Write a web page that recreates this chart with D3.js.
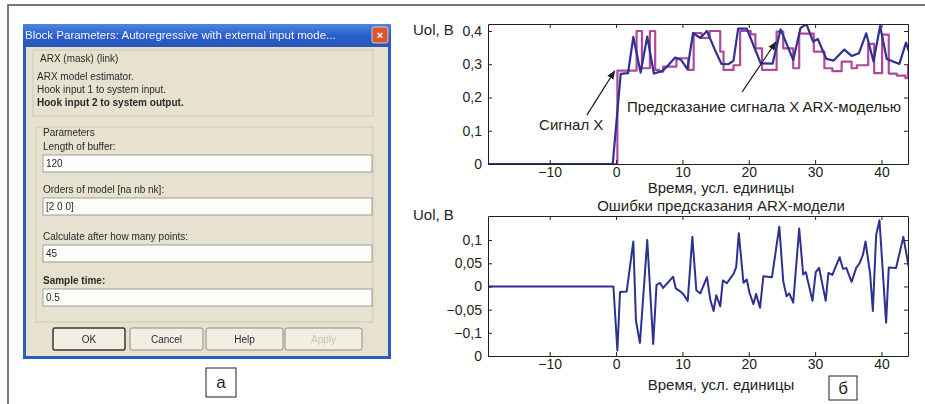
<!DOCTYPE html>
<html>
<head>
<meta charset="utf-8">
<script src="https://cdn.jsdelivr.net/npm/d3@7"></script>
<style>
  body { margin: 0; background: #fff; }
  svg { display: block; }
  .axis path, .axis line { stroke: #231f20; stroke-width: 1; }
  .axis text { font-family: "Liberation Sans", Arial, sans-serif; font-size: 14px; fill: #231f20; }
  .lbl { font-family: "Liberation Sans", Arial, sans-serif; font-size: 15px; fill: #231f20; }
  .dlg { font-family: "Liberation Sans", Arial, sans-serif; font-size: 10px; fill: #2a2a2a; }
</style>
</head>
<body>
<div id="chart"></div>
<script>
// Figure: dialog screenshot (a) + ARX prediction plots (b)

// x axis (time, conventional units)
const xDomain = [-19.3, 44];
const xTicks = [-10, 0, 10, 20, 30, 40];

// top plot: signal X and ARX prediction, V
const topYDomain = [0, 0.421];
const topYTicks = [0, 0.1, 0.2, 0.3, 0.4];
const topYTickLabels = ["0", "0,1", "0,2", "0,3", "0,4"];

// bottom plot: prediction error, V
const botYDomain = [-0.15, 0.152];
const botYTicks = [-0.15, -0.1, -0.05, 0, 0.05, 0.1];
const botYTickLabels = ["0", "\u22120,1", "\u22120,05", "0", "0,05", "0,1"];

// signal X (drawn as steps) [t, value]
const signalX = [
  [-19.3, 0], [0.2, 0.281], [3.1, 0.40], [3.9, 0.288], [5.1, 0.40], [5.9, 0.283],
  [6.5, 0.278], [7.1, 0.293], [9.1, 0.318], [10.9, 0.283], [11.7, 0.394], [12.9, 0.379],
  [14.1, 0.40], [15.7, 0.338], [16.2, 0.283], [17.7, 0.297], [18.7, 0.40], [20.3, 0.39],
  [21.0, 0.348], [22.0, 0.283], [24.2, 0.398], [25.2, 0.348], [26.7, 0.288], [27.6, 0.392],
  [29.8, 0.338], [31.4, 0.288], [32.6, 0.279], [34.0, 0.308], [35.5, 0.288], [36.3, 0.297],
  [38.0, 0.361], [38.9, 0.273], [40.1, 0.389], [41.1, 0.272], [42.3, 0.266], [43.6, 0.258],
  [44.0, 0.297]
];

// ARX-model prediction of signal X [t, value]
const predictionX = [
  [-19.3, 0], [-0.5, 0], [0.7, 0.271], [1.8, 0.273], [2.6, 0.382], [3.7, 0.275],
  [4.7, 0.383], [5.7, 0.272], [7.0, 0.28], [7.9, 0.298], [8.9, 0.32], [9.8, 0.313],
  [10.75, 0.285], [11.6, 0.394], [12.7, 0.379], [13.7, 0.40], [14.9, 0.343], [15.9, 0.301],
  [16.9, 0.30], [17.7, 0.31], [18.4, 0.407], [19.7, 0.407], [21.8, 0.303], [23.6, 0.302],
  [24.8, 0.405], [26.7, 0.313], [27.8, 0.409], [28.7, 0.42], [29.7, 0.368], [30.4, 0.376],
  [31.7, 0.316], [32.8, 0.311], [34.4, 0.344], [35.5, 0.325], [36.6, 0.333], [37.7, 0.393],
  [38.8, 0.308], [39.8, 0.415], [40.8, 0.316], [42.7, 0.301], [43.7, 0.365], [44.1, 0.34]
];

// prediction error [t, value]
const predictionError = [
  [-19.3, 0], [-0.4, 0], [0.2, -0.138], [0.6, -0.012], [1.6, -0.011], [2.6, 0.097],
  [3.0, -0.074], [3.6, -0.122], [4.7, 0.10], [5.6, -0.124], [6.1, 0.003], [6.6, 0.008],
  [7.1, -0.003], [8.6, 0.021], [9.0, -0.004], [9.6, -0.01], [10.1, -0.016], [10.8, -0.031],
  [11.5, 0.107], [12.1, -0.008], [12.7, -0.015], [13.7, 0.02], [14.2, -0.028], [14.7, -0.053],
  [15.1, -0.019], [15.7, -0.043], [16.1, 0.013], [16.7, 0.007], [17.7, 0.027], [18.1, 0.041],
  [18.5, 0.115], [19.2, 0.008], [19.7, 0.015], [20.1, -0.013], [20.7, -0.038], [21.1, -0.016],
  [21.7, -0.046], [22.2, 0.022], [23.5, 0.020], [24.6, 0.129], [25.2, 0.011], [25.7, -0.021],
  [26.1, -0.015], [26.7, -0.035], [27.6, 0.125], [28.2, 0.026], [28.6, 0.031], [29.6, -0.031],
  [30.1, 0.031], [30.6, 0.04], [31.6, -0.031], [32.0, 0.029], [32.6, 0.025], [33.1, 0.043],
  [33.7, 0.063], [34.2, 0.038], [34.7, 0.04], [35.5, 0.01], [36.2, 0.040], [36.7, 0.05],
  [37.2, 0.068], [37.6, 0.097], [38.3, 0.026], [38.7, -0.053], [39.2, 0.111], [39.7, 0.143],
  [40.7, -0.078], [41.1, 0.041], [42.2, 0.04], [43.3, 0.107], [44.1, 0.043]
];

// annotations in data coordinates: label position, arrow tail, arrow tip
const notes = [
  {text: "Сигнал X", tx: -11.6, tv: 0.102, fromT: -4.4, fromV: 0.147, toT: -0.2, toV: 0.28},
  {text: "Предсказание сигнала X ARX-моделью", tx: 1.66, tv: 0.157, fromT: 19.0, fromV: 0.217, toT: 24.1, toV: 0.367}
];

// dialog contents (screenshot in part "а")
const dlgTitle = "Block Parameters: Autoregressive with external input mode...";
const dlgInfo = ["ARX model estimator.", "Hook input 1 to system input.", "Hook input 2 to system output."];
const dlgFields = [
  {label: "Length of buffer:", value: "120"},
  {label: "Orders of model [na nb nk]:", value: "[2 0 0]"},
  {label: "Calculate after how many points:", value: "45"},
  {label: "Sample time:", value: "0.5"}
];
const dlgButtons = ["OK", "Cancel", "Help", "Apply"];

const W = 925, H = 404;
const blue = "#2e3192", purple = "#b0489b";

const svg = d3.select("#chart").append("svg")
    .attr("width", W)
    .attr("height", H);

const defs = svg.append("defs");
defs.append("marker")
    .attr("id", "arrow")
    .attr("viewBox", "0 0 10 10")
    .attr("refX", 9).attr("refY", 5)
    .attr("markerWidth", 9).attr("markerHeight", 9)
    .attr("markerUnits", "userSpaceOnUse")
    .attr("orient", "auto")
    .append("path")
    .attr("d", "M0,1 L10,5 L0,9 Z")
    .attr("fill", "#231f20");
defs.append("filter").attr("id", "soft")
    .append("feGaussianBlur").attr("stdDeviation", 0.45);
let tg = defs.append("linearGradient").attr("id", "titlebar")
    .attr("x1", 0).attr("x2", 0).attr("y1", 0).attr("y2", 1);
tg.append("stop").attr("offset", 0).attr("stop-color", "#4f86e0");
tg.append("stop").attr("offset", 0.5).attr("stop-color", "#2a5fcc");
tg.append("stop").attr("offset", 1).attr("stop-color", "#2a56b8");

// figure frame (top and left edges only)
svg.append("path")
    .attr("d", `M8,${H} L8,5 L${W},5`)
    .attr("fill", "none")
    .attr("stroke", "#4d4d4d")
    .attr("stroke-width", 1.5);

// ---------- part a: dialog ----------
const dlg = svg.append("g").attr("class", "dialog");
const dx0 = 23, dx1 = 391, dy0 = 24, dy1 = 359;

dlg.append("rect").attr("x", dx0).attr("y", dy0).attr("width", dx1 - dx0).attr("height", dy1 - dy0)
    .attr("fill", "#2c5cc0");
dlg.append("rect").attr("x", dx0).attr("y", dy0).attr("width", dx1 - dx0).attr("height", 23)
    .attr("fill", "url(#titlebar)");
dlg.append("rect").attr("x", dx0 + 3).attr("y", dy0 + 23).attr("width", dx1 - dx0 - 6).attr("height", dy1 - dy0 - 26)
    .attr("fill", "#e6e2cf");
dlg.append("text").attr("x", dx0 + 2).attr("y", dy0 + 15)
    .attr("class", "dlg").style("font-size", "11.5px").style("fill", "#f4f6ff")
    .attr("filter", "url(#soft)")
    .text(dlgTitle);
dlg.append("rect").attr("x", 372).attr("y", 27).attr("width", 16).attr("height", 16).attr("rx", 2)
    .attr("fill", "#d9572f").attr("stroke", "#f0e0d8").attr("stroke-width", 0.8);
dlg.append("text").attr("x", 380).attr("y", 39).attr("text-anchor", "middle")
    .attr("class", "dlg").style("fill", "#fff").style("font-weight", "bold").style("font-size", "11px")
    .text("×");

// description box
dlg.append("rect").attr("x", 33).attr("y", 50).attr("width", 340).attr("height", 66)
    .attr("fill", "none").attr("stroke", "#cfc9b2");
dlg.append("text").attr("x", 40).attr("y", 62).attr("class", "dlg")
    .attr("filter", "url(#soft)").text("ARX (mask) (link)");
dlg.selectAll("text.info").data(dlgInfo).join("text")
    .attr("class", "dlg info")
    .attr("x", 37)
    .attr("y", (d, i) => 80 + i * 13)
    .attr("filter", "url(#soft)")
    .style("font-weight", (d, i) => i === 2 ? "bold" : "normal")
    .text(d => d);

// parameters group
dlg.append("rect").attr("x", 36).attr("y", 127).attr("width", 337).attr("height", 195)
    .attr("fill", "none").attr("stroke", "#cfc9b2");
dlg.append("text").attr("x", 43).attr("y", 136).attr("class", "dlg")
    .attr("filter", "url(#soft)").text("Parameters");

const fieldY = [150, 193, 240, 284];
const fg = dlg.selectAll("g.field").data(dlgFields).join("g").attr("class", "field");
fg.append("text").attr("class", "dlg")
    .attr("x", 43).attr("y", (d, i) => fieldY[i])
    .attr("filter", "url(#soft)")
    .style("font-weight", (d, i) => i === 3 ? "bold" : "normal")
    .text(d => d.label);
fg.append("rect")
    .attr("x", 43).attr("y", (d, i) => fieldY[i] + 5)
    .attr("width", 329).attr("height", 17)
    .attr("fill", "#fdfdfb").attr("stroke", "#8a8a80").attr("stroke-width", 0.8);
fg.append("text").attr("class", "dlg")
    .attr("x", 46).attr("y", (d, i) => fieldY[i] + 17)
    .attr("filter", "url(#soft)")
    .text(d => d.value);

// buttons
const btnX = [53, 130, 206, 285], btnW = [72, 73, 77, 77];
const bg = dlg.selectAll("g.btn").data(dlgButtons).join("g").attr("class", "btn");
bg.append("rect")
    .attr("x", (d, i) => btnX[i]).attr("y", 328)
    .attr("width", (d, i) => btnW[i]).attr("height", 22).attr("rx", 2)
    .attr("fill", "#f1efe4")
    .attr("stroke", (d, i) => i === 0 ? "#3a3a30" : "#8f8c7c")
    .attr("stroke-width", (d, i) => i === 0 ? 1.5 : 1);
bg.append("text").attr("class", "dlg")
    .attr("x", (d, i) => btnX[i] + btnW[i] / 2).attr("y", 343)
    .attr("text-anchor", "middle")
    .attr("filter", "url(#soft)")
    .style("fill", (d, i) => i === 3 ? "#c9c5b4" : "#2a2a2a")
    .text(d => d);

// label "а"
svg.append("rect").attr("x", 206).attr("y", 368).attr("width", 30).attr("height", 29)
    .attr("fill", "#fff").attr("stroke", "#231f20");
svg.append("text").attr("class", "lbl").attr("x", 221).attr("y", 388)
    .attr("text-anchor", "middle").style("font-size", "17px").text("а");

// ---------- part b: plots ----------
const x = d3.scaleLinear().domain(xDomain).range([488, 908]);
const yTop = d3.scaleLinear().domain(topYDomain).range([164, 24]);
const yBot = d3.scaleLinear().domain(botYDomain).range([356, 216]);

function drawFrame(y, yTicks, yLabels) {
    let g = svg.append("g");
    let [b, t] = y.range();

    g.append("g").attr("class", "axis")
        .attr("transform", `translate(0,${b})`)
        .call(d3.axisBottom(x).tickValues(xTicks).tickSizeInner(-4).tickSizeOuter(0).tickPadding(3)
            .tickFormat(d => d < 0 ? "\u2212" + Math.abs(d) : d));
    g.append("g").attr("class", "axis")
        .attr("transform", `translate(0,${t})`)
        .call(d3.axisTop(x).tickValues(xTicks).tickSizeInner(-4).tickSizeOuter(0).tickFormat(""));
    g.append("g").attr("class", "axis")
        .attr("transform", `translate(${x.range()[0]},0)`)
        .call(d3.axisLeft(y).tickValues(yTicks).tickSizeInner(-4).tickSizeOuter(0).tickPadding(6)
            .tickFormat((d, i) => yLabels[i]));
    g.append("g").attr("class", "axis")
        .attr("transform", `translate(${x.range()[1]},0)`)
        .call(d3.axisLeft(y).tickValues(yTicks).tickSizeInner(4).tickSizeOuter(0).tickFormat(""));
    return g;
}

function clipFor(id, y) {
    let [b, t] = y.range();
    defs.append("clipPath").attr("id", id)
        .append("rect")
        .attr("x", x.range()[0]).attr("y", t)
        .attr("width", x.range()[1] - x.range()[0]).attr("height", b - t);
}
clipFor("clipTop", yTop);
clipFor("clipBot", yBot);

// top plot lines
const stepLine = d3.line().x(d => x(d[0])).y(d => yTop(d[1])).curve(d3.curveStepAfter);
const lineTop = d3.line().x(d => x(d[0])).y(d => yTop(d[1]));
const lineBot = d3.line().x(d => x(d[0])).y(d => yBot(d[1]));

svg.append("path").datum(signalX)
    .attr("clip-path", "url(#clipTop)")
    .attr("d", stepLine)
    .attr("fill", "none").attr("stroke", purple).attr("stroke-width", 2.2)
    .attr("stroke-linejoin", "round");
svg.append("path").datum(predictionX)
    .attr("clip-path", "url(#clipTop)")
    .attr("d", lineTop)
    .attr("fill", "none").attr("stroke", blue).attr("stroke-width", 2.2)
    .attr("stroke-linejoin", "round");
svg.append("path").datum(predictionError)
    .attr("clip-path", "url(#clipBot)")
    .attr("d", lineBot)
    .attr("fill", "none").attr("stroke", blue).attr("stroke-width", 2)
    .attr("stroke-linejoin", "round");

drawFrame(yTop, topYTicks, topYTickLabels);
drawFrame(yBot, botYTicks, botYTickLabels);

// annotations
notes.forEach(n => {
    svg.append("line")
        .attr("x1", x(n.fromT)).attr("y1", yTop(n.fromV))
        .attr("x2", x(n.toT)).attr("y2", yTop(n.toV))
        .attr("stroke", "#231f20").attr("stroke-width", 1.2)
        .attr("marker-end", "url(#arrow)");
    svg.append("text").attr("class", "lbl")
        .attr("x", x(n.tx)).attr("y", yTop(n.tv))
        .text(n.text);
});

// axis titles
svg.append("text").attr("class", "lbl").attr("x", 413).attr("y", 35).text("Uol, B");
svg.append("text").attr("class", "lbl").attr("x", 413).attr("y", 220).text("Uol, B");
svg.append("text").attr("class", "lbl").attr("x", 721).attr("y", 193)
    .attr("text-anchor", "middle").text("Время, усл. единицы");
svg.append("text").attr("class", "lbl").attr("x", 721).attr("y", 390)
    .attr("text-anchor", "middle").text("Время, усл. единицы");
svg.append("text").attr("class", "lbl").attr("x", 721).attr("y", 211)
    .attr("text-anchor", "middle").text("Ошибки предсказания ARX-модели");

// label "б"
svg.append("rect").attr("x", 829).attr("y", 376).attr("width", 28).attr("height", 24)
    .attr("fill", "#fff").attr("stroke", "#231f20");
svg.append("text").attr("class", "lbl").attr("x", 843).attr("y", 394)
    .attr("text-anchor", "middle").style("font-size", "17px").text("б");
</script>
</body>
</html>
